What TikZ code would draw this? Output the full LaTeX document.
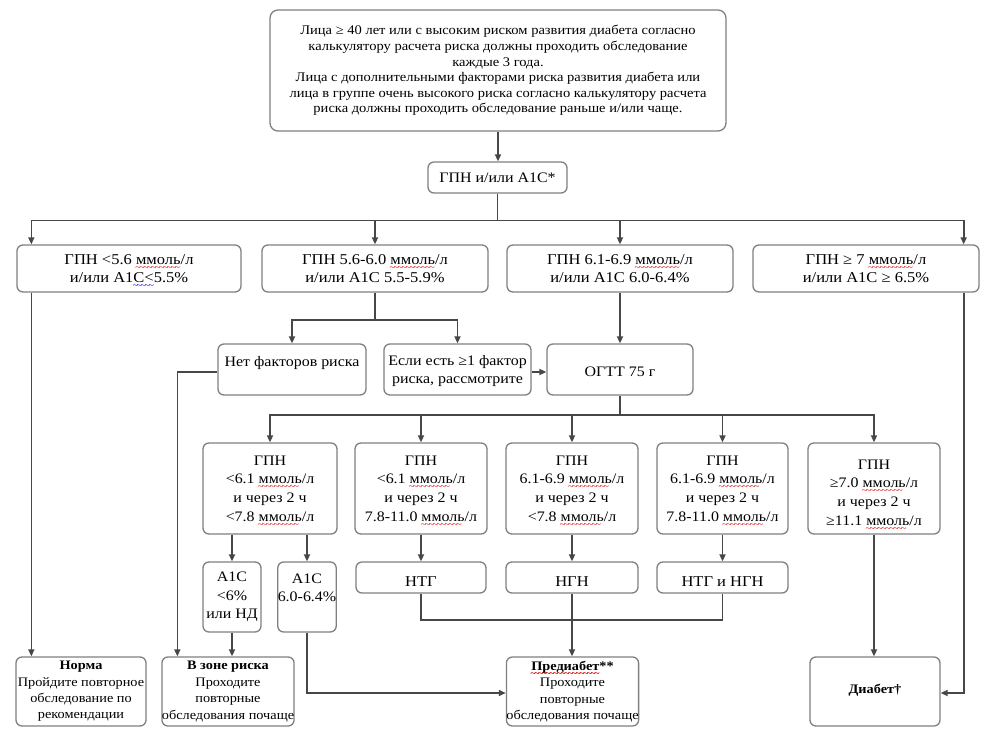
\documentclass[tikz,border=0pt]{standalone}
\usepackage{fontspec}
\setmainfont{Liberation Serif}[FakeStretch=1.1]
\usetikzlibrary{arrows.meta,calc}
\definecolor{boxgray}{gray}{0.5}
\definecolor{linegray}{gray}{0.28}
\newcommand\sqc[2]{\begingroup\setbox0\hbox{#2}\rlap{\raisebox{-6pt}[0pt][0pt]{\color{#1}\fontsize{9}{9}\selectfont\leaders\hbox{\kern-0.7pt\textasciitilde\kern-0.7pt}\hskip\wd0}}\box0\endgroup}
\newcommand\sq{\sqc{red!85!black}}
\newcommand\bsq{\sqc{blue}}
\newcommand\fsz[2]{\fontsize{#1}{#2}\selectfont}
\newcommand\down[2]{\raisebox{0pt}[\dimexpr\height+#1\relax]{#2}}
\begin{document}
\begin{tikzpicture}[x=1pt,y=-1pt,
  box/.style={draw=boxgray, line width=1.3pt, rounded corners=6pt, fill=white, align=center, inner sep=0pt, text=black},
  conn/.style={draw=linegray, line width=1.7pt},
  arr/.style={conn, -{Triangle[length=7pt,width=6pt]}},
  tf/.style={font=\fsz{13.2}{15.6}},
  gf/.style={font=\fsz{14.5}{18}},
  mf/.style={font=\fsz{15}{18}},
  rf/.style={font=\fsz{14.5}{18.6}},
  bf/.style={font=\fsz{13}{16.4}}
]
\useasboundingbox (0,0) rectangle (988,746);
\fill[white] (0,0) rectangle (988,746);

% top
\node[box, tf, minimum width=456, minimum height=121, rounded corners=8pt] (top) at (498,70.5) {Лица ≥ 40 лет или с высоким риском развития диабета согласно\\калькулятору расчета риска должны проходить обследование\\каждые 3 года.\\Лица с дополнительными факторами риска развития диабета или\\лица в группе очень высокого риска согласно калькулятору расчета\\риска должны проходить обследование раньше и/или чаще.};
\node[box, gf, minimum width=139, minimum height=31] (gpn) at (497.5,177.5) {ГПН и/или А1С*};

% row 1
\node[box, mf, minimum width=224, minimum height=47] (r1) at (129,268.5) {ГПН <5.6 \sq{ммоль}/л\\и/или А1\bsq{С<}5.5\%};
\node[box, mf, minimum width=226, minimum height=47] (r2) at (375,268.5) {ГПН 5.6-6.0 \sq{ммоль}/л\\и/или А1С 5.5-5.9\%};
\node[box, mf, minimum width=226, minimum height=47] (r3) at (620,268.5) {ГПН 6.1-6.9 \sq{ммоль}/л\\и/или А1С 6.0-6.4\%};
\node[box, mf, minimum width=226, minimum height=47] (r4) at (866,268.5) {ГПН ≥ 7 \sq{ммоль}/л\\и/или А1С ≥ 6.5\%};

% risk row
\node[box, rf, minimum width=148, minimum height=51] (net) at (292,369.5) {\down{3pt}{Нет факторов риска}\\[0pt]\phantom{X}};
\node[box, rf, minimum width=147, minimum height=51] (esli) at (457.5,369.5) {\down{3pt}{Если есть ≥1 фактор}\\риска, рассмотрите};
\node[box, rf, minimum width=146, minimum height=51] (ogtt) at (620,369.5) {\down{4pt}{ОГТТ 75 г}};

% row 2
\node[box, rf, minimum width=134, minimum height=91] (A) at (270,488.5) {ГПН\\<6.1 \sq{ммоль}/л\\и через 2 ч\\<7.8 \sq{ммоль}/л};
\node[box, rf, minimum width=132, minimum height=91] (B) at (421,488.5) {ГПН\\<6.1 \sq{ммоль}/л\\и через 2 ч\\7.8-11.0 \sq{ммоль}/л};
\node[box, rf, minimum width=132, minimum height=91] (C) at (572,488.5) {ГПН\\6.1-6.9 \sq{ммоль}/л\\и через 2 ч\\<7.8 \sq{ммоль}/л};
\node[box, rf, minimum width=131, minimum height=91] (D) at (722.5,488.5) {ГПН\\6.1-6.9 \sq{ммоль}/л\\и через 2 ч\\7.8-11.0 \sq{ммоль}/л};
\node[box, rf, minimum width=132, minimum height=91] (E) at (874,488.5) {\down{8pt}{ГПН}\\≥7.0 \sq{ммоль}/л\\и через 2 ч\\≥11.1 \sq{ммоль}/л};

% row 3
\node[box, rf, minimum width=58, minimum height=70] (a1) at (232,597) {А1С\\<6\%\\или НД};
\node[box, rf, minimum width=58, minimum height=70] (a2) at (307,597) {А1С\\6.0-6.4\%\\\phantom{X}};
\node[box, mf, minimum width=130, minimum height=31] (ntg) at (421,577.5) {\down{8pt}{НТГ}};
\node[box, mf, minimum width=132, minimum height=31] (ngn) at (572,577.5) {\down{8pt}{НГН}};
\node[box, mf, minimum width=131, minimum height=31] (nn) at (722.5,577.5) {\down{8pt}{НТГ и НГН}};

% bottom
\node[box, bf, minimum width=130, minimum height=69] (norma) at (81,691.5) {\textbf{Норма}\\Пройдите повторное\\обследование по\\рекомендации};
\node[box, bf, minimum width=130, minimum height=69] (zone) at (228,691.5) {\textbf{В зоне риска}\\Проходите\\повторные\\обследования почаще};
\node[box, bf, minimum width=131, minimum height=69] (pre) at (572.5,691.5) {\textbf{\sq{Предиабет}**}\\Проходите\\повторные\\обследования почаще};
\node[box, bf, minimum width=130, minimum height=69] (diab) at (875,691.5) {\raisebox{6pt}{\textbf{Диабет†}}};

% connectors
\draw[arr] (top.south) -- (top.south |- gpn.north);
\coordinate (j1) at ($(gpn.south)+(0,27)$);
\draw[conn] (gpn.south) -- (j1);
\coordinate (r1t) at ($(r1.north west)+(15,0)$);
\coordinate (r4t) at ($(r4.north east)+(-16,0)$);
\draw[arr] (j1) -| (r1t);
\draw[arr] (j1) -| (r2.north);
\draw[arr] (j1) -| (r3.north);
\draw[arr] (j1) -| (r4t);

\coordinate (r1b) at ($(r1.south west)+(15,0)$);
\draw[arr] (r1b) -- (r1b |- norma.north);

\coordinate (j2) at ($(r2.south)+(0,27)$);
\draw[conn] (r2.south) -- (j2);
\draw[arr] (j2) -| (net.north);
\draw[arr] (j2) -| (esli.north);
\draw[arr] (r3.south) -- (r3.south |- ogtt.north);
\coordinate (ea) at ($(esli.east)+(0,2.5)$);
\draw[arr] (ea) -- (ea -| ogtt.west);

\coordinate (nl) at ($(net.west)+(-40,2.5)$);
\draw[arr] (nl -| net.west) -- (nl) -- (nl |- zone.north);

\coordinate (j3) at ($(ogtt.south)+(0,19)$);
\draw[conn] (ogtt.south) -- (j3);
\draw[arr] (j3) -| (A.north);
\draw[arr] (j3) -| (B.north);
\draw[arr] (j3) -| (C.north);
\draw[arr] (j3) -| (D.north);
\draw[arr] (j3) -| (E.north);

\draw[arr] (A.south -| a1.north) -- (a1.north);
\draw[arr] (A.south -| a2.north) -- (a2.north);
\draw[arr] (B.south) -- (ntg.north);
\draw[arr] (C.south) -- (ngn.north);
\draw[arr] (D.south) -- (nn.north);

\coordinate (j4) at ($(ntg.south)+(0,26)$);
\draw[conn] (ntg.south) -- (j4) -| (nn.south);
\draw[arr] (ngn.south) -- (ngn.south |- pre.north);
\draw[arr] (a1.south) -- (a1.south |- zone.north);
\coordinate (pa) at ($(pre.west)+(0,1.5)$);
\draw[arr] (a2.south) |- (pa);
\draw[arr] (E.south) -- (E.south |- diab.north);
\coordinate (r4b) at ($(r4.south east)+(-16,0)$);
\coordinate (da) at ($(diab.east)+(0,1.5)$);
\draw[arr] (r4b) |- (da);
\end{tikzpicture}
\end{document}
